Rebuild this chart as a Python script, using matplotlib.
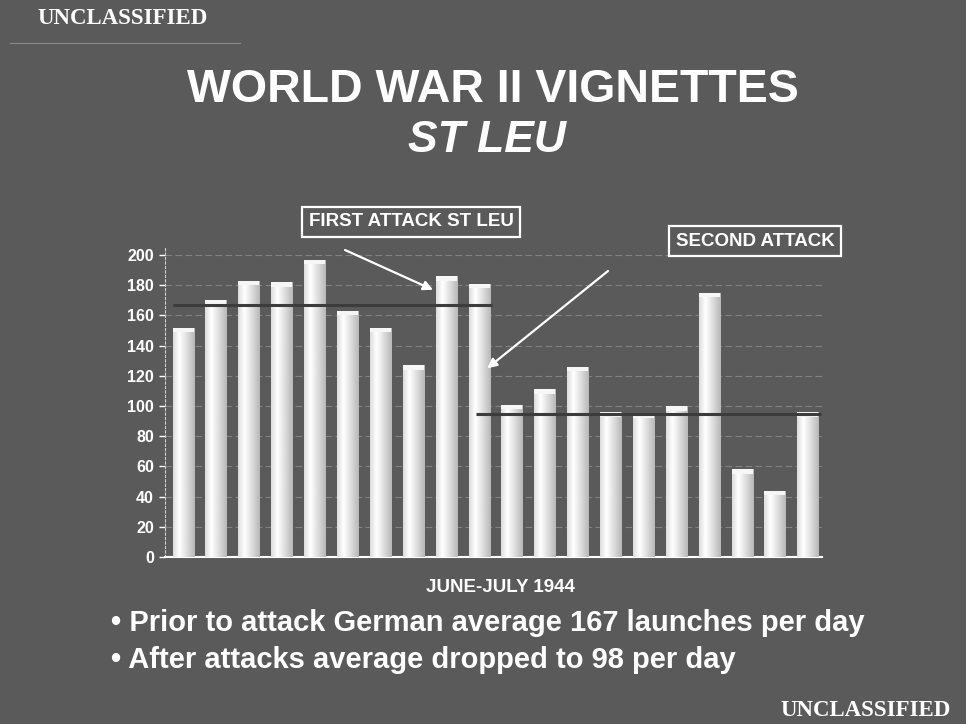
import matplotlib
matplotlib.use('Agg')
import matplotlib.pyplot as plt
import numpy as np

# ---- data ----
launches = [152, 170, 183, 182, 197, 163, 152, 127, 186, 181,
            101, 111, 126, 96, 95, 100, 175, 58, 44, 96]
yticks = [0, 20, 40, 60, 80, 100, 120, 140, 160, 180, 200]
avg_before_level = 167
avg_after_level = 95
title = "WORLD WAR II VIGNETTES"
subtitle = "ST LEU"
xlabel = "JUNE-JULY 1944"
bullets = ["\u2022 Prior to attack German average 167 launches per day",
           "\u2022 After attacks average dropped to 98 per day"]
first_label = "FIRST ATTACK ST LEU"
second_label = "SECOND ATTACK"
first_target = (7.6, 177)
second_target = (9.25, 125)
marking = "UNCLASSIFIED"

W, H = 966, 724
BG = '#5a5a5a'
SANS = 'Liberation Sans'
SERIF = 'Liberation Serif'

fig = plt.figure(figsize=(W / 100, H / 100), dpi=100, facecolor=BG)

def fx(px):
    return px / W

def fy(py):
    return 1 - py / H

ax = fig.add_axes([fx(165), fy(557), fx(822) - fx(165), fy(247.5) - fy(557)])
ax.set_facecolor('none')

x = np.arange(len(launches))
bw = 0.64
bars = ax.bar(x, launches, width=bw, color='#ececec', edgecolor='none', zorder=3)

# cylinder-like shading on each bar
grad = np.concatenate([np.linspace(0.86, 1.0, 30), np.linspace(1.0, 0.72, 70)])
grad = np.tile(grad, (2, 1))
for rect in bars:
    x0 = rect.get_x()
    h = rect.get_height()
    im = ax.imshow(grad, extent=[x0, x0 + bw, 0, h], aspect='auto',
                   cmap='gray', vmin=0, vmax=1, zorder=4, interpolation='bilinear')
    im.set_clip_path(rect)
    # top cap
    ax.bar(rect.get_x() + bw / 2, 3, bottom=h - 3, width=bw, color='#f6f6f6',
           edgecolor='none', zorder=5)

# gridlines
for t in yticks[1:]:
    ax.axhline(t, color='#bdbdbd', lw=0.8, ls=(0, (6, 3)), alpha=0.4, zorder=1)

# average lines crossing bars
ax.hlines(avg_before_level, -0.3, 9.4, color='#3c3c3c', lw=2.2, zorder=6)
ax.hlines(avg_after_level, 8.9, 19.4, color='#3c3c3c', lw=2.2, zorder=6)

ax.set_xlim(-0.55, 19.43)
ax.set_ylim(0, 205)
ax.set_yticks(yticks)
ax.set_xticks([])
for s in ['top', 'right']:
    ax.spines[s].set_visible(False)
ax.spines['bottom'].set_color('white')
ax.spines['bottom'].set_linewidth(1.5)
ax.spines['left'].set_color('#cfcfcf')
ax.spines['left'].set_linewidth(0.8)
ax.spines['left'].set_linestyle((0, (2, 2)))
ax.tick_params(axis='y', colors='white', length=4, width=1, pad=4)
for lab in ax.get_yticklabels():
    lab.set_fontfamily(SANS)
    lab.set_fontweight('bold')
    lab.set_fontsize(11.5)
    lab.set_color('white')

# annotation boxes
box = dict(boxstyle='square,pad=0.35', fc='none', ec='white', lw=1.6)
fig.text(fx(411), fy(222), first_label, ha='center', va='center', color='white',
         fontfamily=SANS, fontweight='bold', fontsize=13.5, bbox=box)
fig.text(fx(755), fy(241), second_label, ha='center', va='center', color='white',
         fontfamily=SANS, fontweight='bold', fontsize=13.5, bbox=box)
arrow = dict(arrowstyle='-|>', color='white', lw=1.6, mutation_scale=14, shrinkA=0, shrinkB=0)
ax.annotate('', xy=first_target, xycoords='data',
            xytext=(345, H - 250), textcoords='figure pixels', arrowprops=arrow, zorder=7)
ax.annotate('', xy=second_target, xycoords='data',
            xytext=(608, H - 271), textcoords='figure pixels', arrowprops=arrow, zorder=7)

# titles and texts
fig.text(fx(493), fy(90), title, ha='center', va='center', color='white',
         fontfamily=SANS, fontweight='bold', fontsize=33.5)
fig.text(fx(487), fy(140), subtitle, ha='center', va='center', color='white',
         fontfamily=SANS, fontweight='bold', fontstyle='italic', fontsize=32)
fig.text(fx(500), fy(588), xlabel, ha='center', va='center', color='white',
         fontfamily=SANS, fontweight='bold', fontsize=13.5)
fig.text(fx(111), fy(623), bullets[0], ha='left', va='center', color='white',
         fontfamily=SANS, fontweight='bold', fontsize=21)
fig.text(fx(111), fy(660), bullets[1], ha='left', va='center', color='white',
         fontfamily=SANS, fontweight='bold', fontsize=21)
fig.text(fx(37), fy(19), marking, ha='left', va='center', color='white',
         fontfamily=SERIF, fontweight='bold', fontsize=16.5)
fig.text(fx(951), fy(710), marking, ha='right', va='center', color='white',
         fontfamily=SERIF, fontweight='bold', fontsize=16.5)
fig.add_artist(plt.Line2D([fx(10), fx(240)], [fy(43), fy(43)], color='#8a8a8a', lw=0.8))

fig.savefig('out.png', dpi=100, facecolor=BG)
